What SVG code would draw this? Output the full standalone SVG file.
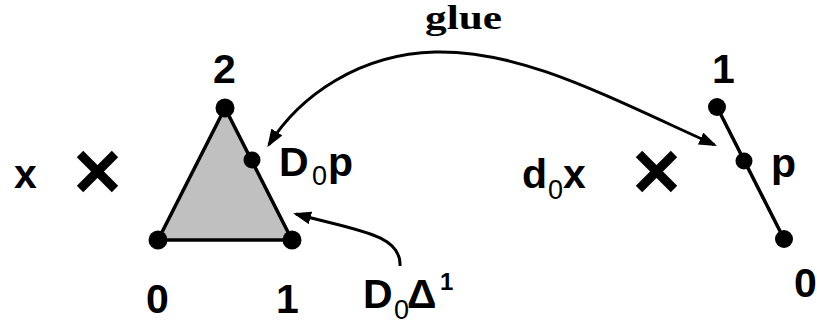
<svg xmlns="http://www.w3.org/2000/svg" width="817" height="327" viewBox="0 0 817 327">
<style>
.lbl{font-family:"Liberation Sans",Arial,sans-serif;font-weight:bold;font-size:41px;fill:#000}
.sub{font-family:"Liberation Sans",Arial,sans-serif;font-weight:normal;font-size:27px;fill:#000}
.sup{font-family:"Liberation Sans",Arial,sans-serif;font-weight:bold;font-size:24px;fill:#000}
.glue{font-family:"Liberation Serif","Times New Roman",serif;font-weight:bold;font-size:34px;fill:#000}
.edge{fill:none;stroke:#000;stroke-width:3.5;stroke-linejoin:round}
.tri{fill:#c0c0c0;stroke:#000;stroke-width:3.5;stroke-linejoin:round}
.conn{fill:none;stroke:#000;stroke-width:3}
.dot{fill:#000}
.cross{stroke:#000;stroke-width:9;stroke-linecap:butt}
</style>
<defs>
<marker id="ah" viewBox="0 0 18 13" refX="15" refY="6.5" markerWidth="18" markerHeight="13" markerUnits="userSpaceOnUse" orient="auto-start-reverse">
<path d="M0,0 L18,6.5 L0,13 z" fill="#000"/>
</marker>
</defs>

<g id="x-label"><text class="lbl" x="14" y="188">x</text></g>
<g id="cross-left"><line class="cross" x1="80" y1="154" x2="115" y2="189"/><line class="cross" x1="115" y1="154" x2="80" y2="189"/></g>

<g id="triangle">
<polygon class="tri" points="225,108 158,240 292,240"/>
<circle class="dot" cx="225" cy="108" r="9.5"/>
<circle class="dot" cx="158" cy="240" r="9.5"/>
<circle class="dot" cx="292" cy="240" r="9.5"/>
<circle class="dot" cx="252" cy="160" r="8.5"/>
<text class="lbl" x="213" y="83">2</text>
<text class="lbl" x="146" y="313">0</text>
<text class="lbl" x="276" y="313">1</text>
</g>

<g id="D0p"><text class="lbl" x="279" y="176">D</text><text class="sub" x="312" y="185">0</text><text class="lbl" x="328" y="176">p</text></g>

<g id="D0Delta1"><text class="lbl" x="363" y="308">D</text><text class="sub" x="394" y="319">0</text><text class="lbl" x="407" y="308">Δ</text><text class="sup" x="440" y="290">1</text></g>

<g id="d0x"><text class="lbl" x="522" y="188">d</text><text class="sub" x="548" y="199">0</text><text class="lbl" x="563" y="188">x</text></g>
<g id="cross-right"><line class="cross" x1="639" y1="154" x2="674" y2="189"/><line class="cross" x1="674" y1="154" x2="639" y2="189"/></g>

<g id="segment">
<line class="edge" x1="717" y1="107" x2="784" y2="239"/>
<circle class="dot" cx="717" cy="107" r="9"/>
<circle class="dot" cx="744" cy="161" r="8.5"/>
<circle class="dot" cx="784" cy="239" r="9"/>
<text class="lbl" x="712" y="83">1</text>
<text class="lbl" x="771" y="177">p</text>
<text class="lbl" x="794" y="297">0</text>
</g>

<g id="glue-label"><text class="glue" x="425" y="29" textLength="77" lengthAdjust="spacingAndGlyphs">glue</text></g>

<g id="connectors">
<path class="conn" d="M268.9,144.7 C300,95 360,54 435,52 C520,50 600,93 714.3,144.7" marker-start="url(#ah)" marker-end="url(#ah)"/>
<path class="conn" d="M400,266 C402,234 355,230 296,214" marker-end="url(#ah)"/>
</g>
</svg>
